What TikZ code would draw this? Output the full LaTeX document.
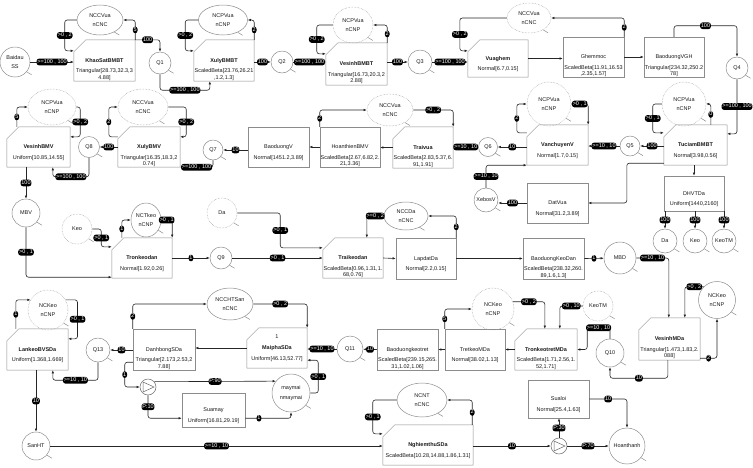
\documentclass[tikz,border=0pt]{standalone}
\usepackage{fontspec}
\setmainfont{Liberation Sans}
\usetikzlibrary{arrows.meta,calc,shapes.geometric}

\newcommand{\bx}[2]{\begin{tabular}[t]{@{}c@{}}#1\\[4pt]#2\end{tabular}}

\tikzset{
  txt/.style={font=\fontsize{5.5}{6.5}\selectfont, text=black!90},
  bxs/.style={txt, rectangle, inner sep=0pt, text height=3.9pt, text depth=0pt,
    minimum width=61pt, minimum height=41pt},
  nbox/.style={bxs, draw=black!45, line width=0.5pt},
  cbox/.style={bxs},
  queue/.style={txt, circle, draw=black!45, line width=0.5pt, inner sep=0pt,
    align=center, minimum size=#1},
  res/.style n args={2}{txt, ellipse, draw=black!45, line width=0.5pt, inner sep=0pt,
    align=center, minimum width=#1, minimum height=#2},
  virt/.style={densely dotted, draw=black!40},
  fn/.style={circle, draw=black!60, line width=0.5pt, minimum size=16pt, inner sep=0pt,
    path picture={\draw[black!60, line width=0.5pt]
      ($(path picture bounding box.center)+(-5,-5)$) --
      ($(path picture bounding box.center)+(6,0)$) --
      ($(path picture bounding box.center)+(-5,5)$) -- cycle;}},
  lbl/.style={fill=black, text=white, font=\fontsize{5.5}{5.5}\selectfont,
    inner sep=0.8pt, text height=4pt, text depth=1.1pt},
  arr/.style={draw=black!85, line width=0.6pt, rounded corners=2.5pt,
    -{Latex[length=3.2pt,width=2.6pt]}},
  outl/.style={draw=black!45, line width=0.5pt}
}

\begin{document}
\begin{tikzpicture}[x=1pt,y=-1pt]
\useasboundingbox (0,0) rectangle (753,467);

% boxes
\node[cbox] (khao) at (104.5,60.5) {\bx{\textbf{KhaoSatBMBT}}{Triangular[28.73,32.3,3\\4.88]}};
\node[cbox,minimum width=60pt] (xulyB) at (224,60.5) {\bx{\textbf{XulyBMBT}}{ScaledBeta[23.76,26.21\\,1.2,1.3]}};
\node[cbox,minimum height=42pt] (vesinhB) at (356.5,64) {\bx{\textbf{VesinhBMBT}}{Triangular[16.73,20.3,2\\2.88]}};
\node[cbox,minimum width=60pt,minimum height=37pt] (vuaghem) at (498,58.5) {\bx{\textbf{Vuaghem}}{Normal[6.7,0.15]}};
\node[nbox,minimum height=40pt] (ghemmoc) at (593.5,57) {\bx{Ghemmoc}{ScaledBeta[11.91,16.53\\,2.35,1.57]}};
\node[nbox,minimum width=60pt,minimum height=40pt] (bdVGH) at (674,57) {\bx{BaoduongVGH}{Triangular[234.32,250.2\\78]}};

\node[cbox,minimum width=63pt,minimum height=40pt] (vesinhV) at (38.5,147) {\bx{\textbf{VesinhBMV}}{Uniform[10.85,14.55]}};
\node[cbox,minimum width=62pt,minimum height=40pt] (xulyV) at (149,147) {\bx{\textbf{XulyBMV}}{Triangular[16.35,18.3,2\\0.74]}};
\node[nbox,minimum height=40pt] (bdV) at (278.5,147) {\bx{BaoduongV}{Normal[1451.2,3.89]}};
\node[nbox,minimum width=60pt,minimum height=40pt] (hoanthien) at (350,147) {\bx{HoanthienBMV}{ScaledBeta[2.67,6.82,2.\\21,3.36]}};
\node[cbox,minimum width=60pt] (traivua) at (423,147.5) {\bx{\textbf{Traivua}}{ScaledBeta[2.83,5.37,6.\\91,1.91]}};
\node[cbox,minimum height=40pt] (vanchuyen) at (557.5,145) {\bx{\textbf{VanchuyenV}}{Normal[1.7,0.15]}};
\node[cbox,minimum width=63pt,minimum height=40pt] (tuciam) at (695.5,145) {\bx{\textbf{TuciamBMBT}}{Normal[3.98,0.56]}};
\node[nbox,minimum height=40pt] (datvua) at (557.5,203) {\bx{DatVua}{Normal[31.2,3.89]}};
\node[nbox,minimum width=60pt,minimum height=35pt] (dhvt) at (694,193.5) {\bx{DHVTDa}{Uniform[1440,2160]}};

\node[cbox,minimum width=60pt,minimum height=40pt] (tronkeo) at (142,258) {\bx{\textbf{Tronkeodan}}{Normal[1.92,0.26]}};
\node[cbox,minimum width=60pt,minimum height=40pt] (traikeo) at (353,258) {\bx{\textbf{Traikeodan}}{ScaledBeta[0.96,1.31,1.\\68,0.76]}};
\node[nbox,minimum width=60pt] (lapdat) at (426,258.5) {\bx{LapdatDa}{Normal[2.2,0.15]}};
\node[nbox] (bdKeoDan) at (553.5,258.5) {\bx{BaoduongKeoDan}{ScaledBeta[238.32,260.\\89,1.6,1.3]}};

\node[cbox] (lankeo) at (37.5,349.5) {\bx{\textbf{LankeoBVSDa}}{Uniform[1.368,1.669]}};
\node[nbox,minimum width=62pt] (danhbong) at (164,349.5) {\bx{DanhbongSDa}{Triangular[2.173,2.53,2\\7.88]}};
\node[cbox,minimum width=60pt,minimum height=40pt] (maipha) at (277,348) {\bx{\ooalign{\textbf{MaiphaSDa}\cr\hfil\raisebox{11pt}{1}\hfil\cr}}{Uniform[46.13,52.77]}};
\node[nbox] (bdKeotret) at (407.5,349.5) {\bx{Baoduongkeotret}{ScaledBeta[239.15,265.\\31,1.02,1.06]}};
\node[nbox,minimum width=60pt] (tretkeo) at (475,349.5) {\bx{TretkeoMDa}{Normal[38.02,1.13]}};
\node[cbox,minimum width=62pt] (tronkeotret) at (546,349.5) {\bx{\textbf{TronkeotretMDa}}{ScaledBeta[1.71,2.56,1.\\52,1.71]}};
\node[cbox,minimum height=42pt] (vesinhM) at (669.5,339) {\bx{\textbf{VesinhMDa}}{Triangular[1.473,1.83,2.\\088]}};
\node[nbox,minimum width=63pt,minimum height=34pt] (suamay) at (213.5,410) {\bx{Suamay}{Uniform[16.81,29.19]}};
\node[nbox,minimum height=38pt] (sualoi) at (558.5,399) {\bx{Sualoi}{Normal[25.4,1.63]}};
\node[cbox,minimum width=90pt,minimum height=40pt] (nghiemthu) at (428,445) {\bx{\textbf{NghiemthuSDa}}{ScaledBeta[10.28,14.88,1.86,1.31]}};

\foreach \n in {khao,xulyB,vesinhB,vuaghem,vesinhV,xulyV,traivua,vanchuyen,tuciam,tronkeo,traikeo,lankeo,maipha,tronkeotret,vesinhM,nghiemthu}
  \draw[outl] ($(\n.north west)+(0,12)$) -- ($(\n.north west)+(12,0)$) -- (\n.north east) -- (\n.south east) -- (\n.south west) -- cycle;

% queues
\node[queue=30pt] (baidau) at (15,62) {Baidau\\[2pt]SS};
\node[queue=22pt] (q1) at (160,63) {Q1};
\node[queue=22pt] (q2) at (282,62) {Q2};
\node[queue=24pt] (q3) at (420,62) {Q3};
\node[queue=22pt] (q4) at (737,68) {Q4};
\node[queue=20pt] (q5) at (630,146) {Q5};
\node[queue=19pt] (q6) at (488,147) {Q6};
\node[queue=20pt] (q7) at (213,150) {Q7};
\node[queue=21pt] (q8) at (89,147) {Q8};
\node[queue=28pt] (mbv) at (26,213) {MBV};
\node[queue=22pt] (q9) at (221,258) {Q9};
\node[queue=24pt] (xebos) at (486,200) {XebosV};
\node[queue=32pt] (mbd) at (620,258) {MBD};
\node[queue=24pt] (daQ) at (665,241) {Da};
\node[queue=24pt] (keoQ) at (695,241) {Keo};
\node[queue=24pt] (keotmQ) at (724,241) {KeoTM};
\node[queue=28pt] (q10) at (610,353) {Q10};
\node[queue=26pt] (q11) at (350,349) {Q11};
\node[queue=24pt] (q13) at (98,350) {Q13};
\node[queue=28pt] (sanht) at (36,446) {SanHT};
\node[queue=36pt] (hoanthanh) at (627,446) {Hoanthanh};
\node[queue=30pt,virt] (daRef) at (222,213) {Da};
\node[queue=30pt,virt] (keoRef) at (77,229) {Keo};
\node[queue=30pt,virt] (keotmRef) at (598,306) {KeoTM};

% resources
\node[res={46pt}{30pt}] (r1) at (100,20) {NCCVua\\[3pt]nCNC};
\node[res={49pt}{30pt}] (r2) at (223,20) {NCPVua\\[3pt]nCNP};
\node[res={40pt}{36pt},virt] (r3) at (353,25) {NCPVua\\[3pt]nCNP};
\node[res={44pt}{30pt},virt] (r4) at (529,18) {NCCVua\\[3pt]nCNC};
\node[res={48pt}{36pt},virt] (r5) at (52,107) {NCPVua\\[3pt]nCNP};
\node[res={50pt}{36pt},virt] (r6) at (143,107) {NCCVua\\[3pt]nCNC};
\node[res={46pt}{32pt},virt] (r7) at (390,110) {NCCVua\\[3pt]nCNC};
\node[res={44pt}{44pt},virt] (r8) at (549,104) {NCPVua\\[3pt]nCNP};
\node[res={44pt}{44pt},virt] (r9) at (684,104) {NCPVua\\[3pt]nCNP};
\node[res={30pt}{34pt}] (r10) at (146,220) {NCTkeo\\[3pt]nCNP};
\node[res={44pt}{28pt}] (r11) at (406,216) {NCCDa\\[3pt]nCNC};
\node[res={37pt}{37pt}] (r12) at (717,300) {NCKeo\\[3pt]nCNP};
\node[res={42pt}{42pt},virt] (r13) at (493,309) {NCKeo\\[3pt]nCNP};
\node[res={46pt}{32pt}] (r14) at (230,304) {NCCHTSan\\[3pt]nCNC};
\node[res={50pt}{34pt}] (r15) at (422,400) {NCNT\\[3pt]nCNC};
\node[res={40pt}{40pt},virt] (r16) at (48,310) {NCKeo\\[3pt]nCNP};
\node[res={38pt}{38pt}] (r17) at (291,393) {maymai\\[3pt]nmaymai};

\node[fn] (fn1) at (148,387) {};
\node[fn] (fn2) at (559,446) {};

\foreach \n in {baidau,q1,q2,q3,q4,q5,q6,q7,q8,mbv,q9,xebos,mbd,daQ,keoQ,keotmQ,q10,q11,q13,sanht,hoanthanh,daRef,keoRef,keotmRef,r1,r2,r3,r4,r5,r6,r7,r8,r9,r10,r11,r12,r13,r14,r15,r16,r17}
  \draw[outl] (\n.-40) -- ++(5,3);

% top row
\draw[arr] (baidau) -- (khao.west |- baidau) node[lbl,midway] (e1) {>=100 , 100};
\draw[arr] (r1.west) -- ++(-12,0) |- ($(khao.north west)+(0,11)$) node[lbl,pos=0.25] (e2) {>0 , 2};
\draw[arr] (khao.north east) |- (r1.east) node[lbl,pos=0.25] (e3) {5};
\draw[arr] (khao.north east) -| (q1.north) node[lbl,pos=0.25] (e4) {100};
\draw[arr] (q1.south) -- ++(0,16) -| ($(xulyB.south west)+(16,0)$) node[lbl,pos=0.25] (e5) {>=100 , 100};
\draw[arr] (r2.west) -- ++(-13,0) |- ($(xulyB.north west)+(0,11)$) node[lbl,pos=0.25] (e6) {>0 , 2};
\draw[arr] (xulyB.north east) |- (r2.east) node[lbl,pos=0.25] (e7) {2};
\draw[arr] (xulyB.east |- q2) -- (q2) node[lbl,midway] (e8) {100};
\draw[arr] (q2) -- (vesinhB.west |- q2) node[lbl,midway] (e9) {>=100 , 100};
\draw[arr] (r3.west) -- ++(-16,0) |- ($(vesinhB.north west)+(0,11)$) node[lbl,pos=0.25] (e10) {>0 , 2};
\draw[arr] (vesinhB.north east) |- (r3.east) node[lbl,pos=0.25] (e11) {2};
\draw[arr] (vesinhB.east |- q3) -- (q3) node[lbl,midway] (e12) {100};
\draw[arr] (q3) -- (vuaghem.west |- q3) node[lbl,midway] (e13) {>=100 , 100};
\draw[arr] (r4.west) -| ($(vuaghem.north west)+(-8,11)$) node[lbl,pos=0.75] (e14) {>0 , 2} -- ($(vuaghem.north west)+(0,11)$);
\draw[arr] (ghemmoc.north east) |- (r4.east) node[lbl,pos=0.25] (e15) {2};
\draw[arr] (vuaghem.east) -- (ghemmoc.west |- vuaghem.east);
\draw[arr] (ghemmoc.east) -- (bdVGH.west);
\draw[arr] (bdVGH.north) -- ++(0,-11) -| (q4.north) node[lbl,pos=0.25] (e16) {100};
\draw[arr] (q4.south) |- ($(tuciam.north east)+(0,9)$) node[lbl,pos=0.25] (e17) {>=100 , 100};

% second row
\draw[arr] (r9.west) -- ++(-9,0) |- ($(tuciam.north west)+(0,8)$) node[lbl,pos=0.25] (e18) {>0 , 1};
\draw[arr] ($(tuciam.north west)+(47,0)$) |- (r9.east) node[lbl,pos=0.25] (e19) {0};
\draw[arr] (tuciam.west |- q5) -- (q5) node[lbl,midway] (e20) {100};
\draw[arr] (q5) -- (vanchuyen.east |- q5) node[lbl,midway] (e21) {>=10 , 10};
\draw[arr] (r8.east) -| (vanchuyen.north east) node[lbl,pos=0.25] (e22) {>0 , 1};
\draw[arr] ($(vanchuyen.north west)+(0,8)$) -- ++(-10,0) |- (r8.west) node[lbl,pos=0.25] (e23) {2};
\draw[arr] (vanchuyen.west |- q6) -- (q6) node[lbl,midway] (e24) {10};
\draw[arr] (q6) -- (traivua.east |- q6) node[lbl,midway] (e25) {>=10 , 10};
\draw[arr] (r7.east) -| (traivua.north east) node[lbl,pos=0.25] (e26) {>0 , 2};
\draw[arr] (hoanthien.north west) |- (r7.west) node[lbl,pos=0.25] (e27) {2};
\draw[arr] (traivua.west) -- (hoanthien.east |- traivua.west);
\draw[arr] (hoanthien.west) -- (bdV.east);
\draw[arr] (bdV.west |- q7) -- (q7) node[lbl,midway] (e28) {10};
\draw[arr] (q7.south) |- (xulyV.south east) node[lbl,pos=0.75] (e29) {>=100 , 100};
\draw[arr] (r6.east) -- ++(18,0) |- ($(xulyV.north east)+(0,10)$) node[lbl,pos=0.25] (e30) {>0 , 2};
\draw[arr] ($(xulyV.north west)+(0,10)$) -- ++(-9,0) |- (r6.west) node[lbl,pos=0.25] (e31) {2};
\draw[arr] (xulyV.west |- q8) -- (q8) node[lbl,midway] (e32) {100};
\draw[arr] (q8.south) -- ++(0,19) -| ($(vesinhV.south west)+(46,0)$) node[lbl,pos=0.25] (e33) {>=100 , 100};
\draw[arr] (r5.east) -- ++(4,0) |- ($(vesinhV.north east)+(0,10)$) node[lbl,pos=0.25] (e34) {>0 , 2};
\draw[arr] ($(vesinhV.north west)+(10,0)$) |- (r5.west) node[lbl,pos=0.25] (e35) {5};
\draw[arr] (mbv |- vesinhV.south) -- (mbv) node[lbl,midway] (e36) {100};
\draw[arr] ($(tuciam.south west)+(0,-2)$) -- ++(-37,0) |- (datvua.east);
\draw[arr] (datvua.west) -- (xebos.east |- datvua.west) node[lbl,midway] (e37) {100};
\draw[arr] (xebos.north) |- (vanchuyen.south west) node[lbl,pos=0.25] (e38) {>=10 , 10};
\draw[arr] (dhvt |- tuciam.south) -- (dhvt.north);
\draw[arr] (daQ |- dhvt.south) -- (daQ) node[lbl,midway] (e39) {100};
\draw[arr] (keoQ |- dhvt.south) -- (keoQ) node[lbl,midway] (e40) {100};
\draw[arr] (keotmQ |- dhvt.south) -- (keotmQ) node[lbl,midway] (e41) {100};

% third row
\draw[arr] (mbv.south) |- ($(tronkeo.south west)+(0,-1)$) node[lbl,pos=0.25] (e42) {>0 , 1};
\draw[arr] (keoRef.east) -- ++(9,0) |- ($(tronkeo.north west)+(0,9)$) node[lbl,pos=0.25] (e43) {>0 , 1};
\draw[arr] ($(tronkeo.north west)+(10,0)$) |- (r10.west) node[lbl,pos=0.25] (e44) {1};
\draw[arr] (r10.east) -| (tronkeo.north east) node[lbl,pos=0.25] (e45) {>0 , 1};
\draw[arr] (tronkeo.east) -- (q9) node[lbl,midway] (e46) {1};
\draw[arr] (q9) -- (traikeo.west |- q9) node[lbl,midway] (e47) {>0 , 1};
\draw[arr] (daRef.east) -- ++(43,0) |- ($(traikeo.north west)+(0,10)$) node[lbl,pos=0.25] (e48) {>0 , 1};
\draw[arr] (r11.west) -| ($(traikeo.north west)+(44,0)$) node[lbl,pos=0.25] (e49) {>=0 , 2};
\draw[arr] (lapdat.north east) |- (r11.east) node[lbl,pos=0.25] (e50) {2};
\draw[arr] (traikeo.east) -- (lapdat.west);
\draw[arr] (lapdat.east) -- (bdKeoDan.west);
\draw[arr] (bdKeoDan.east) -- (mbd) node[lbl,midway] (e51) {1};
\draw[arr] (mbd.east) -| ($(vesinhM.north west)+(30,0)$) node[lbl,pos=0.25] (e52) {>=10 , 10};
\draw[arr] (r12.135) -| ($(vesinhM.north west)+(46,0)$) node[lbl,pos=0.25] (e53) {>0 , 2};
\draw[arr] ($(vesinhM.south east)+(0,-2)$) -| (r12.south) node[lbl,pos=0.25] (e54) {2};

% fourth row
\draw[arr] ($(vesinhM.south west)+(29,0)$) -- ++(0,18) -| (q10.south) node[lbl,pos=0.25] (e55) {10};
\draw[arr] (q10.north) -- ++(0,-11) -| ($(tronkeotret.east)+(10,0)$) node[lbl,pos=0.25] (e56) {>=10 , 10} -- (tronkeotret.east);
\draw[arr] (r13.20) -| ($(tronkeotret.north west)+(30,0)$) node[lbl,pos=0.25] (e57) {>0 , 2};
\draw[arr] (keotmRef.west) -| ($(tronkeotret.north west)+(45,0)$) node[lbl,pos=0.25] (e58) {>0 , 10};
\draw[arr] (tretkeo.north west) |- (r13.west) node[lbl,pos=0.25] (e59) {5};
\draw[arr] (tronkeotret.west) -- (tretkeo.east);
\draw[arr] (tretkeo.west) -- (bdKeotret.east);
\draw[arr] (bdKeotret.west) -- (q11) node[lbl,midway] (e60) {10};
\draw[arr] (q11) -- (maipha.east |- q11) node[lbl,midway] (e61) {>=10 , 10};
\draw[arr] (r14.east) -| (maipha.north east) node[lbl,pos=0.25] (e62) {>0 , 2};
\draw[arr] (danhbong.north west) |- (r14.west) node[lbl,pos=0.25] (e63) {2};
\draw[arr] (maipha.west) -- (danhbong.east |- maipha.west);
\draw[arr] (danhbong.west |- q13) -- (q13) node[lbl,midway] (e64) {10};
\draw[arr] (q13.south) -- ++(0,18) -| ($(lankeo.south west)+(46,0)$) node[lbl,pos=0.25] (e65) {>=10 , 10};
\draw[arr] (r16.30) -- ++(12,0) |- ($(lankeo.north east)+(0,10)$) node[lbl,pos=0.25] (e66) {>0 , 1};
\draw[arr] ($(lankeo.north west)+(9,0)$) |- (r16.150) node[lbl,pos=0.25] (e67) {1};
\draw[arr] (sanht |- lankeo.south) -- (sanht) node[lbl,midway] (e68) {10};
\draw[arr] ($(danhbong.south west)+(0,-8)$) -- ++(-8,0) |- (fn1.west) node[lbl,pos=0.25] (e69) {1};
\draw[arr] (fn1.40) -- (r17.142) node[lbl,midway] (e70) {P:90};
\draw[arr] (fn1.south) |- ($(suamay.south west)+(0,-9)$) node[lbl,pos=0.25] (e71) {P:10};
\draw[arr] ($(suamay.south east)+(0,-9)$) -| (r17.south) node[lbl,pos=0.15] (e72) {1};
\draw[arr] (r17.east) -- ++(8,0) |- ($(maipha.south east)+(0,-8)$) node[lbl,pos=0.25] (e73) {>0 , 1};

% bottom row
\draw[arr] (sanht) -- (nghiemthu.west |- sanht) node[lbl,midway] (e74) {>=10 , 10};
\draw[arr] (r15.west) -- ++(-24,0) |- ($(nghiemthu.north west)+(0,9)$) node[lbl,pos=0.25] (e75) {>0 , 1};
\draw[arr] ($(nghiemthu.north east)+(-1,0)$) |- (r15.east) node[lbl,pos=0.25] (e76) {2};
\draw[arr] (nghiemthu.east |- fn2) -- (fn2) node[lbl,midway] (e77) {10};
\draw[arr] (fn2) -- (hoanthanh) node[lbl,midway] (e78) {P:70};
\draw[arr] (fn2) -- (fn2 |- sualoi.south) node[lbl,midway] (e79) {P:30};
\draw[arr] (sualoi.east) -| (hoanthanh.north) node[lbl,pos=0.25] (e80) {10};
\end{tikzpicture}
\end{document}
